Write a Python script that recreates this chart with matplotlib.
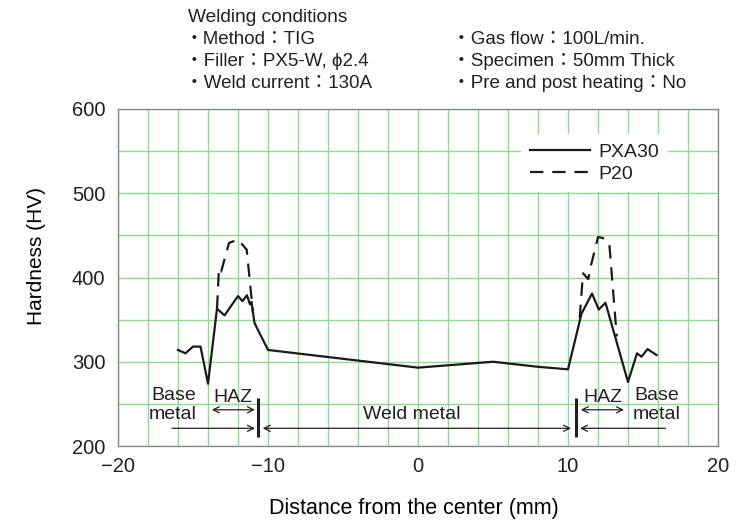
"""
plot.py

Hardness profile across a TIG weld (PXA30 vs P20).
"""
import matplotlib
matplotlib.use("Agg")
import matplotlib.pyplot as plt
import numpy as np

# ============================================
#         data
# ============================================
pxa30_x = [-16.0, -15.5, -15.0, -14.5, -14.0, -13.4, -12.9, -12.0, -11.7, -11.4,
           -11.2, -11.1, -10.9, -10.0, 0.0, 5.0, 8.0, 10.0, 10.9, 11.6,
           12.05, 12.5, 14.0, 14.6, 14.9, 15.3, 15.9]
pxa30_y = [314, 310, 318, 318, 274, 363, 355, 378, 372, 379,
           368, 371, 346, 314, 293, 300, 294, 291, 357, 381,
           362, 370, 276, 310, 306, 315, 308]

# P20 only differs from PXA30 inside the HAZ
p20_left_x = [-13.4, -13.27, -13.12, -12.97, -12.6, -12.0, -11.42, -11.0]
p20_left_y = [363, 411, 407, 417, 441, 445, 433, 358]
p20_right_x = [10.78, 11.0, 11.35, 11.5, 12.0, 12.3, 12.75, 13.25]
p20_right_y = [352, 405, 398, 412, 448, 447, 441, 330]

series_labels = ["PXA30", "P20"]
x_ticks = [-20, -10, 0, 10, 20]
y_ticks = [200, 300, 400, 500, 600]

conditions_left = ["・Method：TIG", "・Filler：PX5-W, ϕ2.4", "・Weld current：130A"]
conditions_right = ["・Gas flow：100L/min.", "・Specimen：50mm Thick",
                    "・Pre and post heating：No"]

GRID = "#93d893"
INK = "#231f20"
W, H = 754, 522

plt.rcParams["font.family"] = ["Liberation Sans", "Noto Sans CJK JP", "DejaVu Sans"]
plt.rcParams["text.color"] = INK

fig = plt.figure(figsize=(W / 100, H / 100), dpi=100)
ax = fig.add_axes([118 / W, 76 / H, 600 / W, 337 / H])

# -----
# curves
# -----
ax.plot(pxa30_x, pxa30_y, color="#1a1a1a", lw=1.6, label=series_labels[0], zorder=3)
ax.plot(p20_left_x, p20_left_y, color="#1a1a1a", lw=1.6, dashes=(6, 4),
        label=series_labels[1], zorder=3)
ax.plot(p20_right_x, p20_right_y, color="#1a1a1a", lw=1.6, dashes=(6, 4), zorder=3)

# -----
# axes, grid
# -----
ax.set_xlim(-20, 20)
ax.set_ylim(200, 600)
ax.set_xticks(x_ticks)
ax.set_yticks(y_ticks)
ax.set_xticks(np.arange(-20, 21, 2), minor=True)
ax.set_yticks(np.arange(200, 601, 50), minor=True)
ax.grid(True, which="both", color=GRID, lw=1.0, zorder=0)
ax.tick_params(which="both", length=0, labelsize=14.5, colors=INK)
ax.tick_params(axis="x", pad=8)
ax.tick_params(axis="y", pad=9)
for s in ax.spines.values():
    s.set_color("#8a8a8a")
    s.set_linewidth(1.0)
ax.set_xlabel("Distance from the center (mm)", fontsize=15.5)
ax.set_ylabel("Hardness (HV)", fontsize=15)
ax.xaxis.set_label_coords(0.493, -0.155)
ax.yaxis.set_label_coords(-0.12, 0.565)

ax.legend(loc="upper left", bbox_to_anchor=(0.672, 0.925), frameon=True,
          edgecolor="none", facecolor="white", framealpha=1, fancybox=False,
          fontsize=14, handlelength=3.1, handletextpad=0.4, labelspacing=0.25,
          borderpad=0.45, borderaxespad=0)

# -----
# zone annotations
# -----
arrow = dict(arrowstyle="->", lw=0.9, color=INK, shrinkA=0, shrinkB=0,
             mutation_scale=11)
both = dict(arrow, arrowstyle="<->")
ax.annotate("", xy=(-10.87, 221), xytext=(-16.4, 221), arrowprops=arrow)
ax.annotate("", xy=(10.8, 221), xytext=(16.5, 221), arrowprops=arrow)
ax.annotate("", xy=(-10.35, 221), xytext=(10.2, 221), arrowprops=both)
ax.annotate("", xy=(-13.75, 243), xytext=(-10.87, 243), arrowprops=both)
ax.annotate("", xy=(10.85, 243), xytext=(13.73, 243), arrowprops=both)
for bx in (-10.65, 10.53):
    ax.plot([bx, bx], [211, 257], color=INK, lw=2.2, solid_capstyle="butt")

for tx, ty, t in [(-16.3, 260, "Base"), (-16.35, 237, "metal"),
                  (-12.33, 258, "HAZ"), (12.33, 258, "HAZ"),
                  (15.95, 260, "Base"), (15.9, 237, "metal"),
                  (-0.4, 237, "Weld metal")]:
    ax.text(tx, ty, t, fontsize=14, ha="center", va="center")

# -----
# welding conditions header
# -----
fig.text(188 / W, 1 - 17 / H, "Welding conditions", fontsize=13.8, va="center")
for i, t in enumerate(conditions_left):
    fig.text(185 / W, 1 - (39 + 22 * i) / H, t, fontsize=13.5, va="center")
for i, t in enumerate(conditions_right):
    fig.text(452 / W, 1 - (39 + 22 * i) / H, t, fontsize=13.5, va="center")

fig.savefig("out.png", dpi=100)
